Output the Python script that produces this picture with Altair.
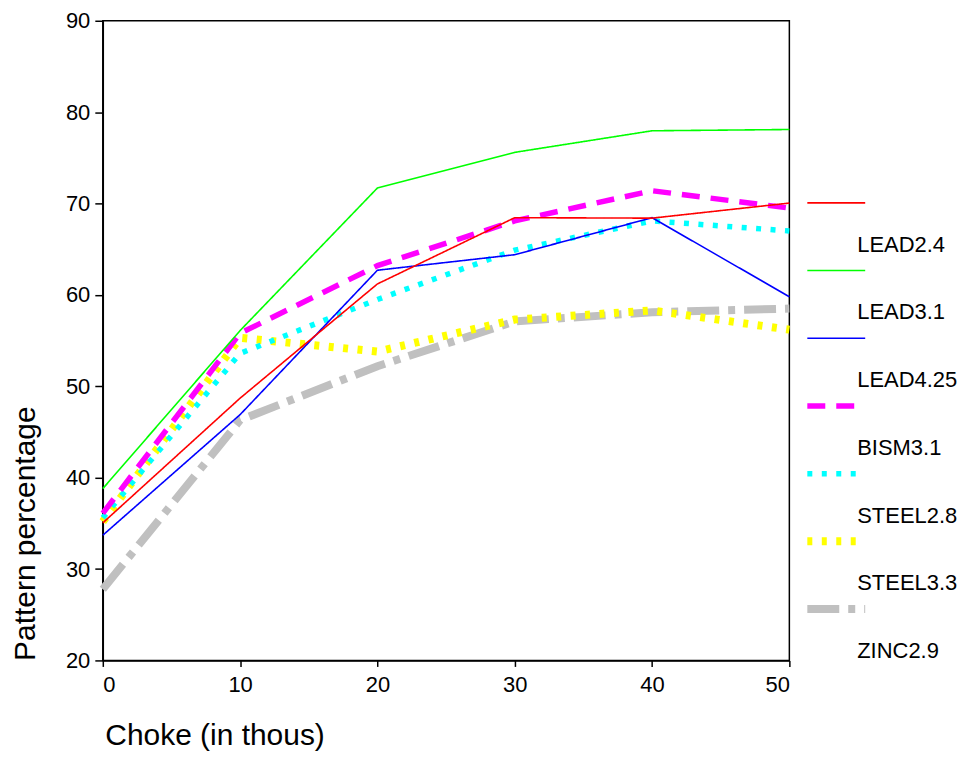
import altair as alt
import pandas as pd

# ---- data ----
choke = [0, 10, 20, 30, 40, 50]
series_names = ["LEAD2.4", "LEAD3.1", "LEAD4.25", "BISM3.1", "STEEL2.8", "STEEL3.3", "ZINC2.9"]
lead24 = [35.05, 48.7, 61.2, 68.45, 68.4, 70.05]
lead31 = [38.8, 56.1, 71.7, 75.6, 77.96, 78.1]
lead425 = [33.7, 46.9, 62.7, 64.4, 68.45, 59.8]
bism31 = [36.1, 55.8, 63.2, 68.1, 71.4, 69.5]
steel28 = [35.6, 53.6, 59.5, 64.9, 68.1, 67.0]
steel33 = [35.2, 55.3, 53.8, 57.3, 58.3, 56.2]
zinc29 = [27.8, 46.3, 52.2, 57.1, 58.1, 58.5]
y_ticks = [20, 30, 40, 50, 60, 70, 80, 90]
x_ticks = [0, 10, 20, 30, 40, 50]

# ---- styles ----
colors = ["#FF0000", "#00FF00", "#0000FF", "#FF00FF", "#00FFFF", "#FFFF00", "#C0C0C0"]
dashes = [[1, 0], [1, 0], [1, 0], [18, 11], [5, 9.5], [5, 9.5], [32, 9, 7, 9]]
widths = [1.6, 1.6, 1.6, 5.5, 5.5, 8, 8]

all_series = [lead24, lead31, lead425, bism31, steel28, steel33, zinc29]
FONT = "Liberation Sans"

x_enc = alt.X("choke:Q", scale=alt.Scale(domain=[0, 50], nice=False),
              axis=alt.Axis(values=x_ticks, title="Choke (in thous)", tickSize=6,
                            labelPadding=8, labelFontSize=22, titleFontSize=30,
                            titleFontWeight="normal", titleX=2, titleY=84,
                            titleAlign="left", titleBaseline="alphabetic"))
y_enc = alt.Y("pct:Q", scale=alt.Scale(domain=[20, 90], nice=False),
              axis=alt.Axis(values=y_ticks, title="Pattern percentage", tickSize=8,
                            labelPadding=5, labelFontSize=22, titleFontSize=30,
                            titleFontWeight="normal", titleAngle=270, titleX=-68,
                            titleY=641, titleAlign="left", titleBaseline="alphabetic"))

line_layers = []
leg_layers = []
leg = pd.DataFrame({"series": series_names})
leg_y = alt.Y("series:N", scale=alt.Scale(type="point", domain=series_names,
                                          range=[182.5, 589.5], padding=0), axis=None)

items = list(zip(series_names, all_series, colors, dashes, widths))
# draw the first series last (on top), as in the reference
for name, vals, col, dash, w in reversed(items):
    d = pd.DataFrame({"choke": choke, "pct": vals, "series": name})
    line_layers.append(
        alt.Chart(d).mark_line(color=col, strokeDash=dash, strokeWidth=w, strokeCap="butt")
        .encode(x=x_enc, y=y_enc)
    )

for name, vals, col, dash, w in items:
    leg_layers.append(
        alt.Chart(leg).transform_filter(alt.datum.series == name)
        .mark_rule(color=col, strokeDash=dash, strokeWidth=w, strokeCap="butt")
        .encode(x=alt.value(706), x2=alt.value(764), y=leg_y)
    )

leg_text = alt.Chart(leg).mark_text(align="left", baseline="middle", dy=42,
                                    fontSize=22, font=FONT, color="black").encode(
    x=alt.value(756), y=leg_y, text="series:N",
)

chart = alt.layer(
    alt.layer(*line_layers),
    alt.layer(*leg_layers, leg_text),
).resolve_scale(y="independent").properties(
    width=688, height=641,
    autosize=alt.AutoSizeParams(type="none"),
    padding={"left": 95, "top": 12, "right": 172, "bottom": 100},
    background="white",
).configure_view(
    stroke="black", strokeWidth=1.5
).configure_axis(
    grid=False, domainColor="black", domainWidth=1.5, tickColor="black", tickWidth=1.5,
    labelColor="black", titleColor="black", labelFont=FONT, titleFont=FONT,
)

chart.save("out.html", embed_options={"renderer": "svg", "actions": False})
